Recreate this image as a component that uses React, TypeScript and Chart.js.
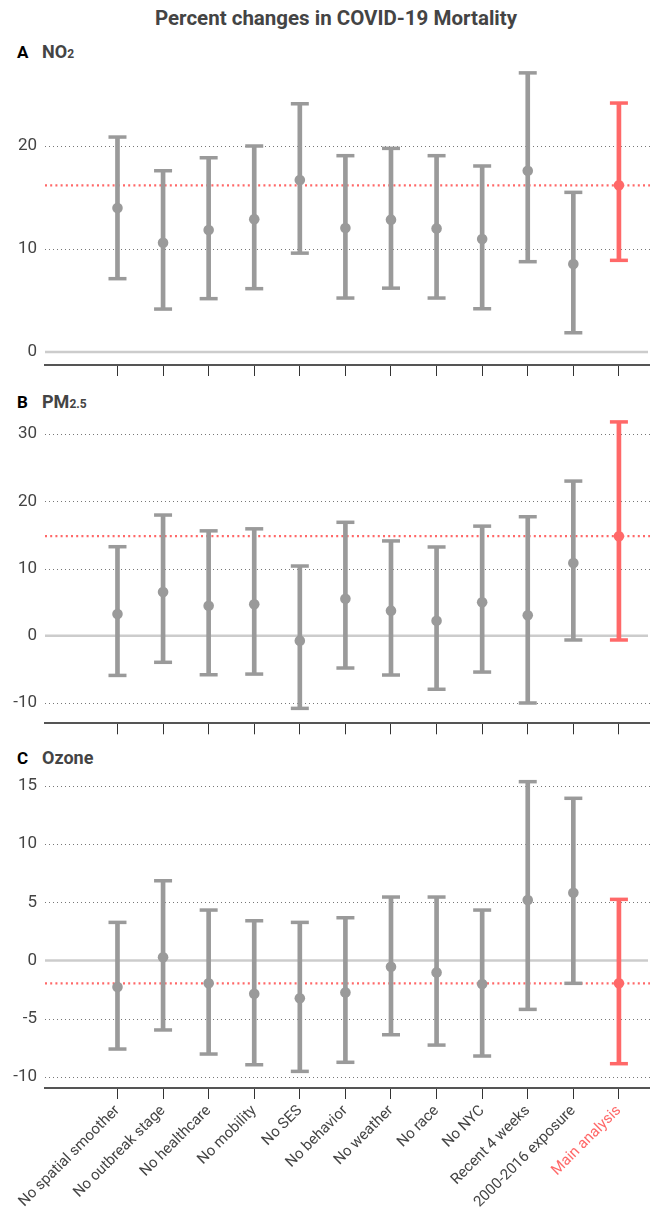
import React, { useEffect, useRef } from "react";
import { Chart, registerables } from "chart.js";

Chart.register(...registerables);

// ---------- DATA ----------
const categories = [
  "No spatial smoother",
  "No outbreak stage",
  "No healthcare",
  "No mobility",
  "No SES",
  "No behavior",
  "No weather",
  "No race",
  "No NYC",
  "Recent 4 weeks",
  "2000-2016 exposure",
  "Main analysis",
];

const no2Est = [13.98, 10.6, 11.84, 12.9, 16.7, 12.04, 12.85, 12.0, 10.97, 17.6, 8.54, 16.18];
const no2Low = [7.12, 4.17, 5.18, 6.15, 9.6, 5.24, 6.2, 5.24, 4.2, 8.77, 1.87, 8.9];
const no2High = [20.87, 17.6, 18.86, 20.0, 24.1, 19.06, 19.77, 19.06, 18.06, 27.1, 15.5, 24.17];
const no2Ref = [16.18];
const no2Ticks = [0, 10, 20];

const pmEst = [3.23, 6.5, 4.47, 4.67, -0.73, 5.5, 3.73, 2.24, 4.97, 3.03, 10.8, 14.8];
const pmLow = [-5.9, -3.95, -5.8, -5.7, -10.8, -4.8, -5.84, -7.96, -5.4, -10.0, -0.63, -0.63];
const pmHigh = [13.24, 17.95, 15.6, 15.9, 10.37, 16.87, 14.1, 13.2, 16.3, 17.7, 23.0, 31.8];
const pmRef = [14.8];
const pmTicks = [-10, 0, 10, 20, 30];

const o3Est = [-2.29, 0.27, -1.97, -2.86, -3.26, -2.75, -0.54, -1.03, -2.03, 5.19, 5.82, -1.97];
const o3Low = [-7.62, -5.98, -8.05, -8.97, -9.54, -8.76, -6.39, -7.28, -8.22, -4.21, -1.97, -8.88];
const o3High = [3.27, 6.85, 4.33, 3.41, 3.27, 3.67, 5.45, 5.45, 4.33, 15.37, 13.94, 5.25];
const o3Ref = [-1.97];
const o3Ticks = [-10, -5, 0, 5, 10, 15];

// ---------- STYLE ----------
const GRAY = "#9a9a9a";
const RED = "#ff6868";
const FONT = "Roboto, 'Noto Sans', sans-serif";
const W = 653;
const AREA_LEFT = 45;
const AREA_RIGHT = 649;

const colorsFor = () => categories.map((_, i) => (i === categories.length - 1 ? RED : GRAY));

const refPlugin = {
  id: "refLines",
  beforeDatasetsDraw(chart: any, _args: any, opts: any) {
    const { ctx, chartArea } = chart;
    const y = chart.scales.y;
    const left = chartArea.left;
    const right = chartArea.right + 1;
    ctx.save();
    for (const t of y.ticks) {
      if (t.value === 0) continue;
      const py = Math.round(y.getPixelForValue(t.value)) + 0.5;
      ctx.setLineDash([1, 3]);
      ctx.strokeStyle = "#777";
      ctx.lineWidth = 1;
      ctx.beginPath();
      ctx.moveTo(left, py);
      ctx.lineTo(right, py);
      ctx.stroke();
    }
    const z = y.getPixelForValue(0);
    ctx.setLineDash([]);
    ctx.strokeStyle = "#cccccc";
    ctx.lineWidth = 2.5;
    ctx.beginPath();
    ctx.moveTo(left, z);
    ctx.lineTo(chartArea.right - 1, z);
    ctx.stroke();
    const r = y.getPixelForValue(opts.value);
    ctx.setLineDash([2, 3.2]);
    ctx.strokeStyle = RED;
    ctx.lineWidth = 2.2;
    ctx.beginPath();
    ctx.moveTo(left, r);
    ctx.lineTo(right, r);
    ctx.stroke();
    ctx.restore();
  },
};

type Panel = {
  est: number[];
  low: number[];
  high: number[];
  ref: number;
  ticks: number[];
  yMin: number;
  yMax: number;
  top: number;
  height: number;
  areaTop: number;
  areaBottom: number;
  showLabels: boolean;
};

function PanelChart({ p }: { p: Panel }) {
  const ref = useRef<HTMLCanvasElement | null>(null);
  useEffect(() => {
    if (!ref.current) return;
    const cols = colorsFor();
    const tTop = p.areaTop - p.top;
    const tBottom = p.areaBottom - p.top;
    const st = { xh: p.height - tBottom };
    const padding = { top: tTop, right: W - AREA_RIGHT, left: 0, bottom: 0 };
    const options: any = {
      animation: false,
      responsive: false,
      devicePixelRatio: 1,
      layout: { padding, autoPadding: false },
      plugins: {
        legend: { display: false },
        tooltip: { enabled: false },
        refLines: { value: p.ref },
      },
      scales: {
        x: {
          type: "linear",
          min: -1.59,
          max: 11.66,
          offset: false,
          afterBuildTicks: (s: any) => {
            s.ticks = categories.map((_, i) => ({ value: i }));
          },
          afterFit: (s: any) => {
            s.height = st.xh;
            s.paddingLeft = 0;
            s.paddingRight = 0;
          },
          grid: {
            offset: false,
            drawOnChartArea: false,
            drawTicks: true,
            tickLength: 11,
            tickColor: "#333",
            tickWidth: 1,
          },
          border: { display: true, color: "#555", width: 2 },
          ticks: {
            autoSkip: false,
            minRotation: 45,
            maxRotation: 45,
            padding: 3,
            font: { family: FONT, size: 15 },
            color: (c: any) => (c.index === categories.length - 1 ? RED : "#444"),
            callback: (v: any) => (p.showLabels ? categories[v] : ""),
          },
        },
        y: {
          type: "linear",
          min: p.yMin,
          max: p.yMax,
          afterBuildTicks: (s: any) => {
            s.ticks = p.ticks.map((v) => ({ value: v }));
          },
          afterFit: (s: any) => {
            s.width = AREA_LEFT;
            s.paddingTop = 0;
            s.paddingBottom = 0;
          },
          grid: { display: false, drawTicks: false },
          border: { display: false },
          ticks: {
            padding: 8,
            color: "#444",
            font: { family: FONT, size: 17 },
          },
        },
      },
    };
    const chart = new Chart(ref.current, {
      type: "scatter",
      data: {
        datasets: [
          {
            type: "scatter",
            data: p.est.map((v, i) => ({ x: i, y: v })),
            pointRadius: 5.3,
            pointBackgroundColor: cols,
            pointBorderWidth: 0,
            order: 0,
            clip: false,
          } as any,
          {
            type: "scatter",
            data: [
              ...p.low.map((v, i) => ({ x: i, y: v })),
              ...p.high.map((v, i) => ({ x: i, y: v })),
            ],
            pointStyle: "line",
            pointRadius: 9,
            pointBorderWidth: 3.5,
            pointBorderColor: [...cols, ...cols],
            order: 1,
            clip: false,
          } as any,
          {
            type: "bar",
            data: p.low.map((v, i) => ({ x: i, y: [v, p.high[i]] })),
            backgroundColor: cols,
            barThickness: 4,
            borderWidth: 0,
            order: 2,
            clip: false,
          } as any,
        ],
      },
      options,
      plugins: [refPlugin as any],
    });
    // fine correction so the plot area lands where the reference has it
    for (let k = 0; k < 3; k++) {
      const ca = chart.chartArea;
      const dR = ca.right - AREA_RIGHT;
      const dT = ca.top - tTop;
      const dB = ca.bottom - tBottom;
      if (Math.abs(dR) < 0.2 && Math.abs(dT) < 0.2 && Math.abs(dB) < 0.2) break;
      padding.right += dR;
      padding.top -= dT;
      st.xh += dB;
      options.layout.padding = { ...padding };
      chart.update();
    }
    return () => chart.destroy();
  }, []);
  return (
    <canvas
      ref={ref}
      width={W}
      height={p.height}
      style={{ position: "absolute", left: 0, top: p.top, width: W, height: p.height }}
    />
  );
}

const panels: Panel[] = [
  { est: no2Est, low: no2Low, high: no2High, ref: no2Ref[0], ticks: no2Ticks, yMin: -1.26, yMax: 28, top: 56, height: 334, areaTop: 63.6, areaBottom: 365, showLabels: false },
  { est: pmEst, low: pmLow, high: pmHigh, ref: pmRef[0], ticks: pmTicks, yMin: -13.02, yMax: 32.5, top: 390, height: 360, areaTop: 417.2, areaBottom: 723.3, showLabels: false },
  { est: o3Est, low: o3Low, high: o3High, ref: o3Ref[0], ticks: o3Ticks, yMin: -10.97, yMax: 15.9, top: 750, height: 458, areaTop: 775.5, areaBottom: 1088, showLabels: true },
];

const labelStyle = (top: number): React.CSSProperties => ({
  position: "absolute",
  left: 17,
  top,
  height: 24,
  lineHeight: "24px",
  fontFamily: FONT,
  fontWeight: 700,
  whiteSpace: "nowrap",
});

function PanelLabel({ top, letter, children }: { top: number; letter: string; children: React.ReactNode }) {
  return (
    <div style={labelStyle(top)}>
      <span style={{ color: "#000", fontSize: 17, display: "inline-block", width: 25 }}>{letter}</span>
      <span style={{ color: "#444", fontSize: 18 }}>{children}</span>
    </div>
  );
}

export default function App() {
  useEffect(() => {
    document.body.style.margin = "0";
  }, []);
  return (
    <div style={{ position: "relative", width: W, height: 1208, overflow: "hidden", background: "#fff" }}>
      <div
        style={{
          position: "absolute",
          left: 126,
          width: 420,
          top: 4,
          height: 28,
          lineHeight: "28px",
          textAlign: "center",
          fontFamily: FONT,
          fontWeight: 700,
          fontSize: 20.5,
          color: "#444",
          whiteSpace: "nowrap",
        }}
      >
        Percent changes in COVID-19 Mortality
      </div>
      <PanelLabel top={40} letter="A">
        NO<span style={{ fontSize: 12 }}>2</span>
      </PanelLabel>
      <PanelLabel top={390} letter="B">
        PM<span style={{ fontSize: 12 }}>2.5</span>
      </PanelLabel>
      <PanelLabel top={746} letter="C">
        Ozone
      </PanelLabel>
      {panels.map((p, i) => (
        <PanelChart key={i} p={p} />
      ))}
    </div>
  );
}
